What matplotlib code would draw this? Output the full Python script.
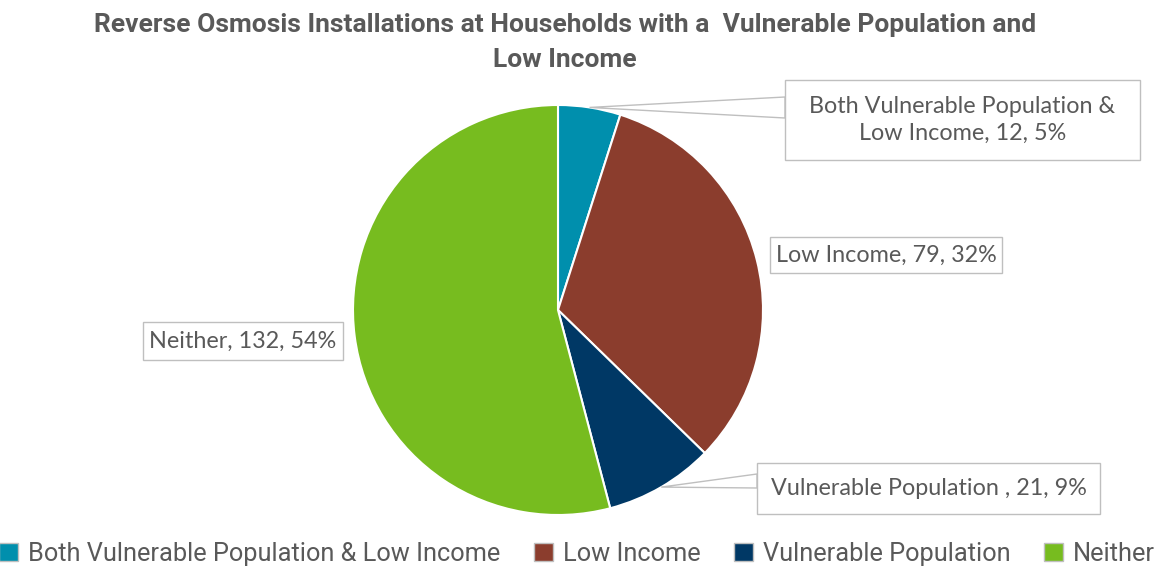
import numpy as np
import matplotlib.pyplot as plt
from matplotlib.patches import Rectangle, Polygon, Patch

categories = ["Both Vulnerable Population & Low Income", "Low Income",
              "Vulnerable Population", "Neither"]
counts = [12, 79, 21, 132]
percents = [5, 32, 9, 54]
label_texts = ["Both Vulnerable Population &\nLow Income, 12, 5%",
               "Low Income, 79, 32%",
               "Vulnerable Population , 21, 9%",
               "Neither, 132, 54%"]
colors = ["#008FAD", "#8B3D2D", "#003865", "#77BC1F"]

W, H = 1154, 569
TXT = "#595959"
EDGE = "#BFBFBF"

fig = plt.figure(figsize=(W / 100, H / 100), dpi=100)
ax = fig.add_axes([0, 0, 1, 1])

cx, cy, r = 558, H - 310, 205
wedges, _ = ax.pie(counts, colors=colors, startangle=90, counterclock=False,
                   center=(cx, cy), radius=r, frame=True,
                   wedgeprops=dict(edgecolor="white", linewidth=1.5))
ax.set_xlim(0, W)
ax.set_ylim(0, H)
ax.set_aspect("equal")
ax.axis("off")

# label boxes: (left, top, width, height) in image pixels, leader attach (y0, y1) or None
boxes = [
    ((785, 80, 355, 80), (97, 118)),
    ((770, 237, 232, 36), None),
    ((757, 463, 343, 51), (474, 488)),
    ((143, 322, 200, 38), None),
]
for w, txt, (box, lead) in zip(wedges, label_texts, boxes):
    x0, top, bw, bh = box
    y0 = H - top - bh
    if lead is not None:
        mid = np.deg2rad((w.theta1 + w.theta2) / 2)
        px, py = cx + r * np.cos(mid), cy + r * np.sin(mid)
        ax.add_patch(Polygon([(px, py), (x0, H - lead[0]), (x0, H - lead[1])],
                             closed=True, facecolor="white", edgecolor=EDGE,
                             linewidth=1, zorder=3))
    ax.add_patch(Rectangle((x0, y0), bw, bh, facecolor="white", edgecolor=EDGE,
                           linewidth=1, zorder=4))
    ax.text(x0 + bw / 2, y0 + bh / 2, txt, ha="center", va="center",
            fontsize=16.8, color=TXT, family="Lato", linespacing=1.3, zorder=5)

ax.text(565, H - 25, "Reverse Osmosis Installations at Households with a  Vulnerable Population and",
        ha="center", va="center", fontsize=19, fontweight="bold", color=TXT,
        family="Roboto")
ax.text(565, H - 60, "Low Income", ha="center", va="center", fontsize=19,
        fontweight="bold", color=TXT, family="Roboto")

handles = [Patch(facecolor=c, edgecolor=EDGE, linewidth=1) for c in colors]
fig.legend(handles, categories, loc="lower center", ncol=4, frameon=False,
           bbox_to_anchor=(0.5, -0.035), handlelength=0.75, handleheight=0.75,
           handletextpad=0.4, columnspacing=1.3,
           prop=dict(family="Roboto", size=18.3),
           labelcolor=TXT)

fig.savefig("out.png", dpi=100)
